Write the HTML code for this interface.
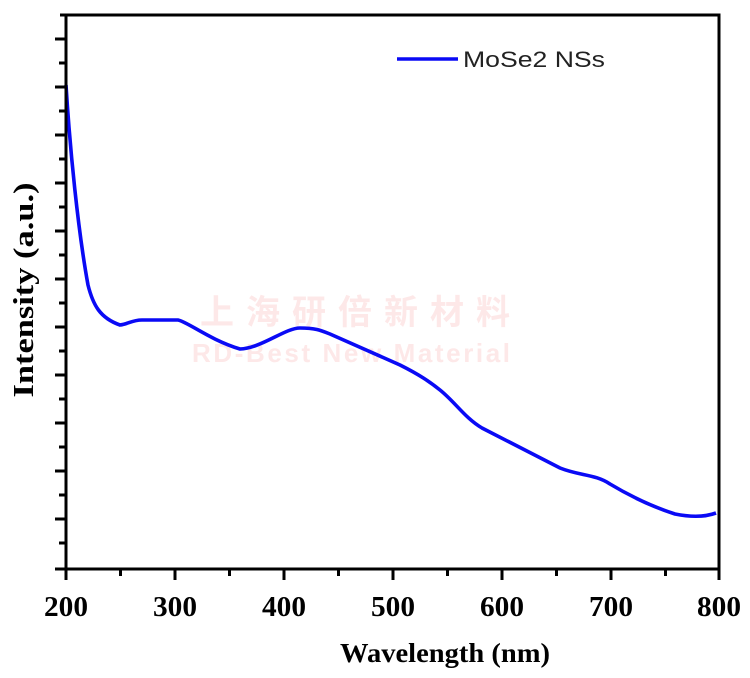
<!DOCTYPE html>
<html><head><style>
html,body{margin:0;padding:0;background:#fff;}
svg{display:block;}
</style></head><body>
<svg width="750" height="678" viewBox="0 0 750 678" xmlns="http://www.w3.org/2000/svg">
<rect width="750" height="678" fill="#fff"/>
<g font-family="Liberation Sans, Noto Sans CJK SC, sans-serif" font-weight="bold" fill="#fde8e8">
<text x="200" y="324" font-size="34" textLength="310">上海研倍新材料</text>
<text x="192" y="362" font-size="26" textLength="318">RD-Best New Material</text>
</g>
<path d="M66,85 C70,150 78,230 88,285 C93,305 100,318 120,325 C128,324 132,320 142,320 L178,320 C188,322 210,340 240,349 C262,348 285,328 300,328 C315,328 320,330 330,334 L400,365 C420,375 430,382 440,390 C455,402 465,418 482,428 L560,468 C580,476 595,474 610,484 C630,496 650,506 675,514 C690,517 705,517 716,513" fill="none" stroke="#0a0af5" stroke-width="3.6"/>
<g stroke="#000" stroke-width="3" fill="none">
<path d="M60,15 L719,15 L719,569"/>
<path d="M66,14 L66,569 L719,569"/>
</g>
<g stroke="#000" stroke-width="3">
<path d="M55,39H66M59,63H66M55,87H66M59,111H66M55,135H66M59,159H66M55,183H66M59,207H66M55,231H66M59,255H66M55,279H66M59,303H66M55,327H66M59,351H66M55,375H66M59,399H66M55,423H66M59,447H66M55,471H66M59,495H66M55,519H66M59,543H66M55,569H66"/>
<path d="M66,569V580M120.5,569V576M175,569V580M229.5,569V576M284,569V580M338.5,569V576M393,569V580M447.5,569V576M502,569V580M556.5,569V576M611,569V580M665.5,569V576M719,569V580"/>
</g>
<g font-family="Liberation Serif, serif" font-weight="bold" font-size="29" text-anchor="middle" fill="#000">
<text x="66" y="616" textLength="44" lengthAdjust="spacingAndGlyphs">200</text><text x="175" y="616" textLength="44" lengthAdjust="spacingAndGlyphs">300</text><text x="284" y="616" textLength="44" lengthAdjust="spacingAndGlyphs">400</text><text x="393" y="616" textLength="44" lengthAdjust="spacingAndGlyphs">500</text><text x="502" y="616" textLength="44" lengthAdjust="spacingAndGlyphs">600</text><text x="611" y="616" textLength="44" lengthAdjust="spacingAndGlyphs">700</text><text x="719" y="616" textLength="44" lengthAdjust="spacingAndGlyphs">800</text>
<text x="445" y="662" font-size="27" textLength="210" lengthAdjust="spacingAndGlyphs">Wavelength (nm)</text>
<text transform="translate(33,290) rotate(-90)" font-size="28" textLength="215" lengthAdjust="spacingAndGlyphs">Intensity (a.u.)</text>
</g>
<line x1="397" y1="59" x2="458" y2="59" stroke="#0a0af5" stroke-width="3.6"/>
<text x="463" y="67" font-family="Liberation Sans, sans-serif" font-size="22" fill="#222" textLength="142" lengthAdjust="spacingAndGlyphs">MoSe2 NSs</text>
</svg>
</body></html>
